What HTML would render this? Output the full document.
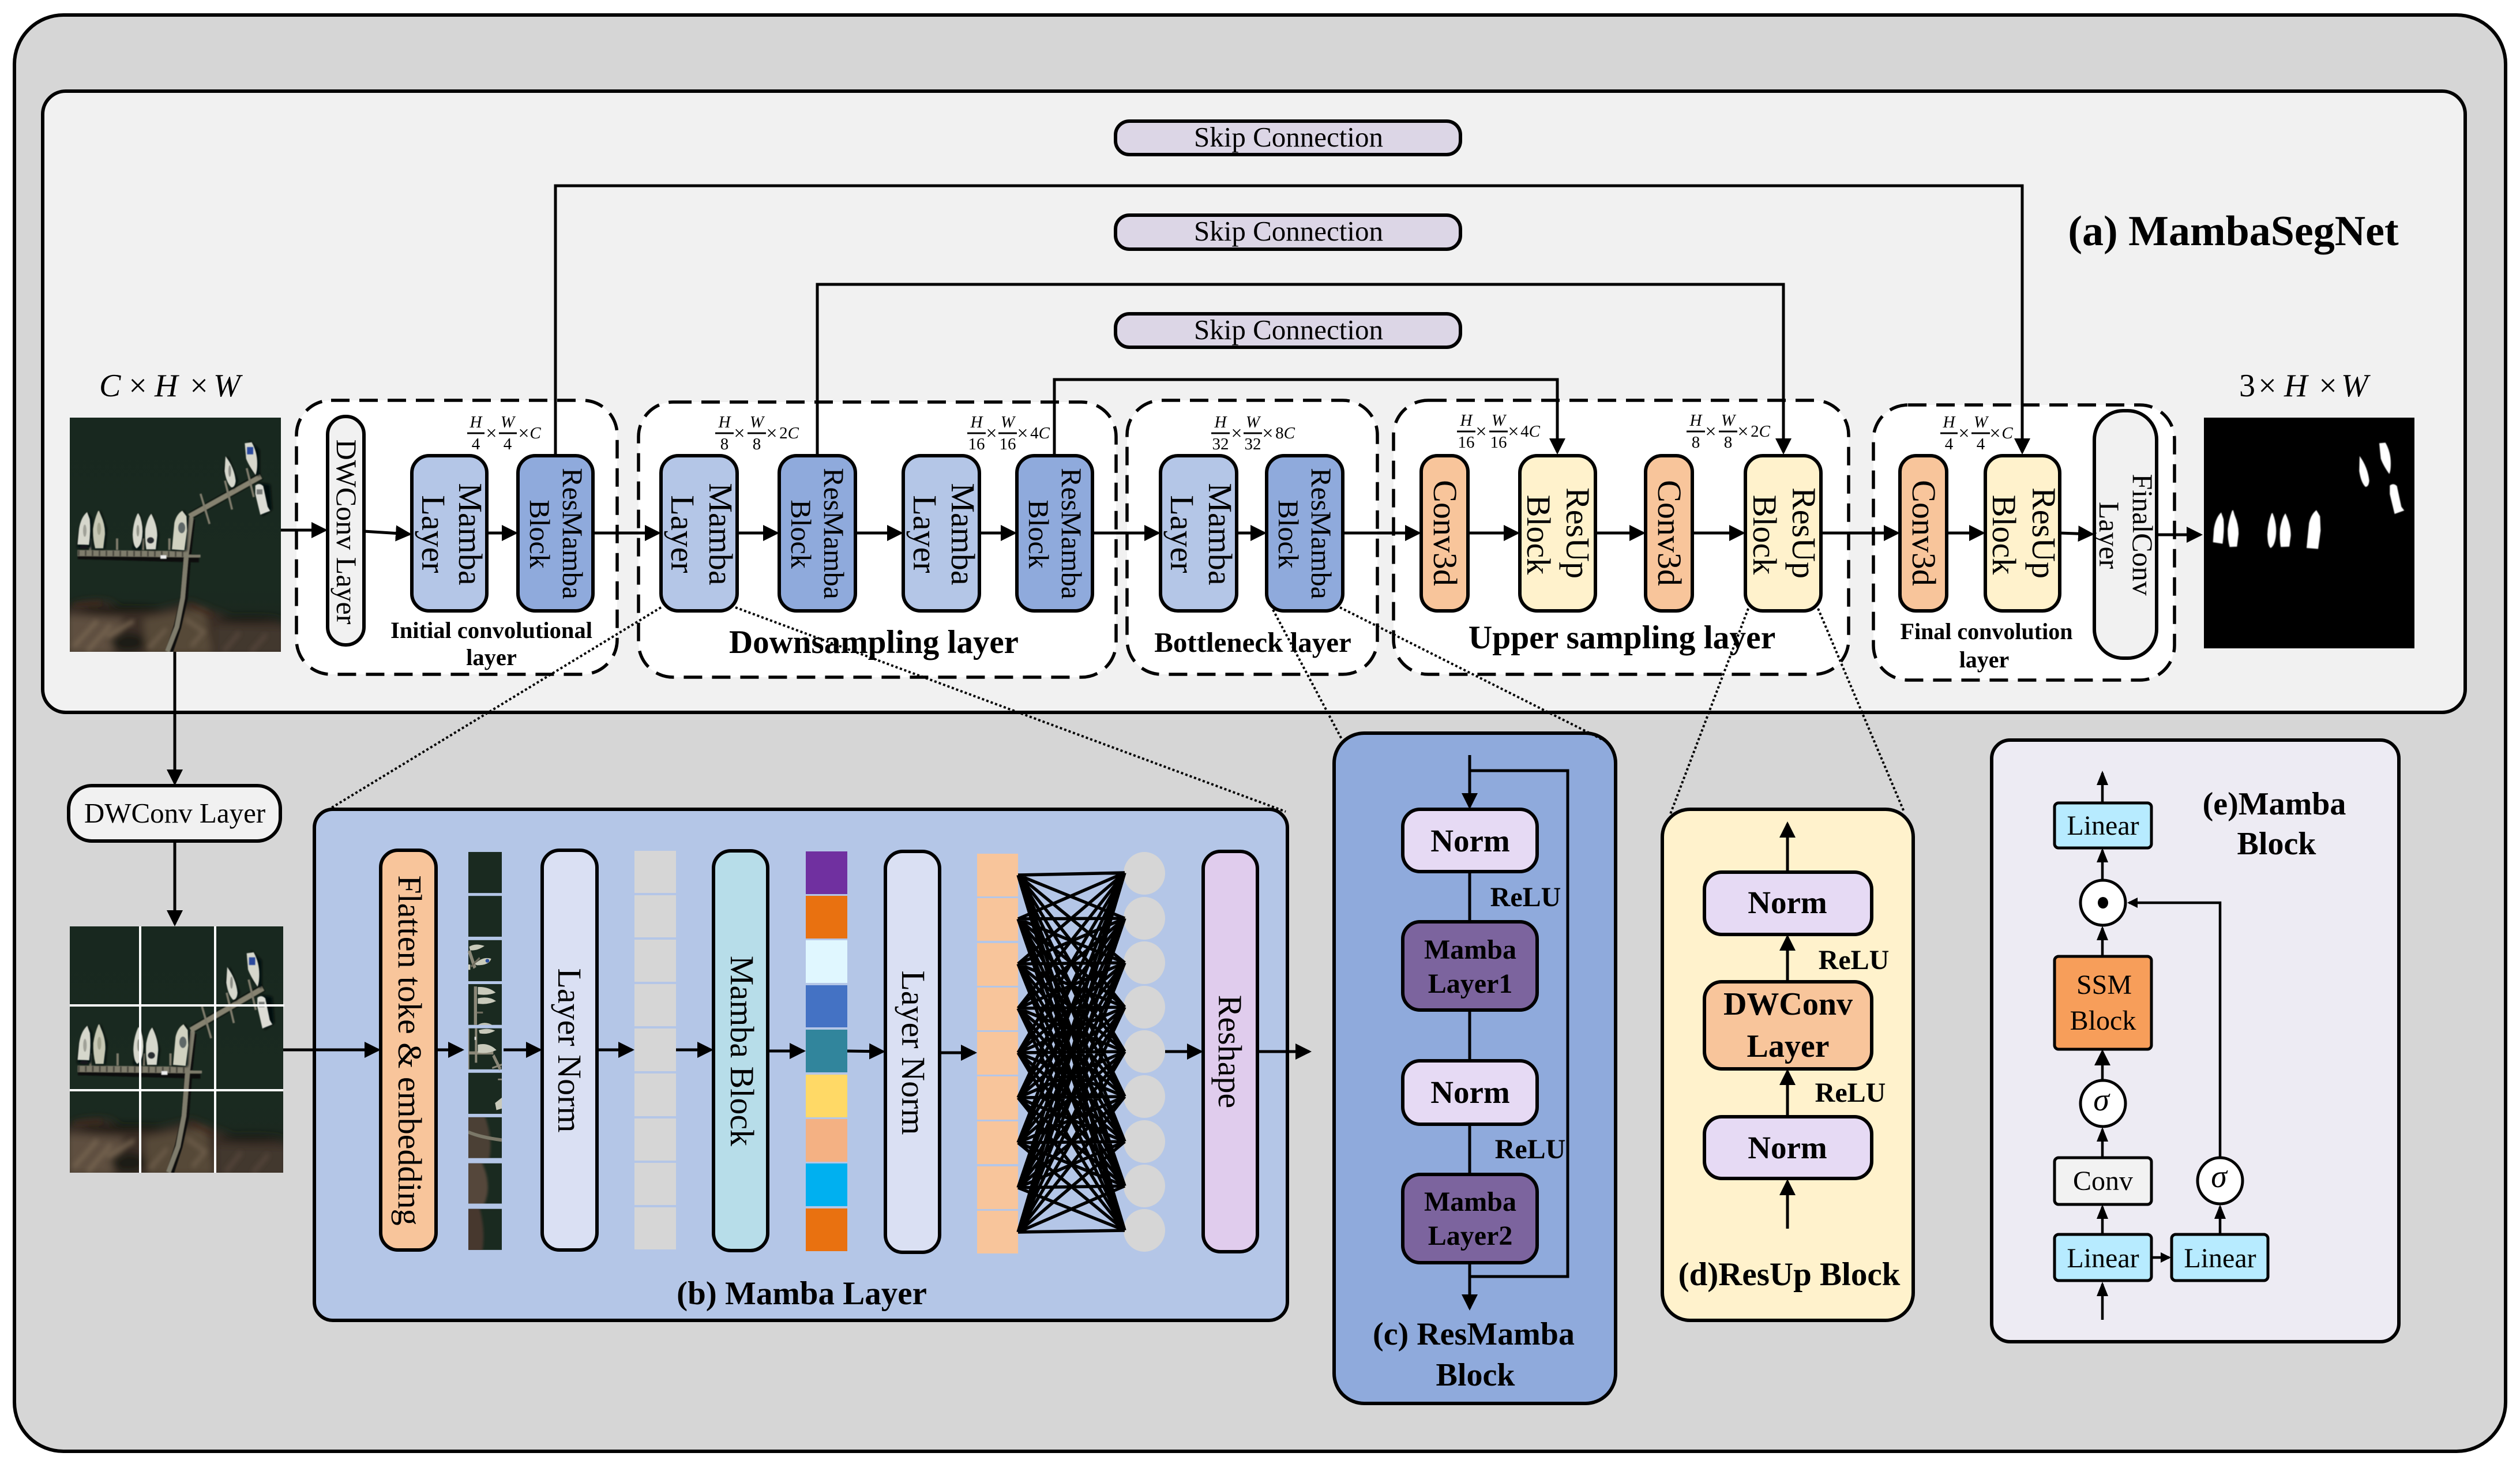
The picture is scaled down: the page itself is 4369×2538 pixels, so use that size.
<!DOCTYPE html>
<html><head><meta charset="utf-8"><title>MambaSegNet</title>
<style>html,body{margin:0;padding:0;background:#fff}svg.m{display:block;font-family:"Liberation Serif",serif;fill:#000}
.b{font-weight:bold}.c{text-anchor:middle}.i{font-style:italic}</style></head><body>
<svg class="m" xmlns="http://www.w3.org/2000/svg" width="4369" height="2538" viewBox="0 0 4369 2538">
<defs>
<marker id="a" markerUnits="userSpaceOnUse" markerWidth="30" markerHeight="30" refX="24" refY="14" orient="auto"><path d="M0 0L28 14L0 28Z" fill="#000"/></marker>
<marker id="c" markerUnits="userSpaceOnUse" markerWidth="30" markerHeight="24" refX="21" refY="10" orient="auto"><path d="M0 0L25 10L0 20Z" fill="#000"/></marker>
<marker id="d" markerUnits="userSpaceOnUse" markerWidth="22" markerHeight="22" refX="15" refY="9" orient="auto"><path d="M0 0L18 9L0 18Z" fill="#000"/></marker>
<filter id="b2" x="-20%" y="-20%" width="140%" height="140%"><feGaussianBlur stdDeviation="2"/></filter>
<filter id="b6" x="-20%" y="-20%" width="140%" height="140%"><feGaussianBlur stdDeviation="6"/></filter>
<filter id="b12" x="-30%" y="-30%" width="160%" height="160%"><feGaussianBlur stdDeviation="12"/></filter>
<filter id="b20" x="-30%" y="-30%" width="160%" height="160%"><feGaussianBlur stdDeviation="20"/></filter>
<linearGradient id="wg" x1="0" y1="0" x2="0" y2="1"><stop offset="0" stop-color="#18281f"/><stop offset=".7" stop-color="#1a2a20"/><stop offset="1" stop-color="#1c261e"/></linearGradient>
<symbol id="ph" viewBox="18 12 1098 1218" preserveAspectRatio="none">
<rect x="18" y="12" width="1098" height="1218" fill="url(#wg)"/>
<g filter="url(#b20)">
<path d="M0 1000Q100 950 220 970Q350 1040 480 1010L650 970Q760 1020 900 1060L1140 1080L1140 1260L0 1260Z" fill="#3a2f27"/>
<path d="M0 1040L300 1060L240 1240L0 1240Z" fill="#5f5041"/>
<path d="M400 1060L720 1000L760 1240L420 1240Z" fill="#574839"/>
<path d="M780 1100L1140 1110L1140 1240L780 1240Z" fill="#43372e"/>
<ellipse cx="320" cy="1180" rx="90" ry="50" fill="#1d1f19"/>
<ellipse cx="280" cy="1010" rx="210" ry="16" fill="#17160f"/>
<ellipse cx="950" cy="1060" rx="170" ry="18" fill="#1b1a14"/>
</g>
<g filter="url(#b12)" fill="none" stroke-width="20">
<path d="M40 1200L160 1070M110 1225L230 1090M210 1150L350 1070" stroke="#75644f"/>
<path d="M620 1060L720 1130M650 1200L720 1120M430 1210L520 1110" stroke="#6c5b48"/>
<path d="M820 1225L900 1130M960 1230L1040 1140" stroke="#54453a"/>
<path d="M40 985L180 975M640 985L760 1040" stroke="#40271a" stroke-width="14"/>
</g>
<g filter="url(#b2)">
<path d="M650 520L1015 315" stroke="#000" stroke-opacity=".5" stroke-width="40"/>
<path d="M60 728L690 745M650 540L630 720L612 950L578 1100L535 1228" stroke="#0a0d0a" stroke-width="40" fill="none"/>
<g stroke="#7f7c6c" fill="none">
<path d="M58 716L625 722" stroke-width="32"/><path d="M625 732L698 732" stroke-width="14"/>
<path d="M650 530L625 720L605 950L575 1100L525 1228" stroke-width="24"/>
<path d="M640 525L1012 318" stroke-width="26" stroke="#868270"/>
<path d="M698 408L745 565M825 340L862 490M938 275L975 425" stroke-width="11"/>
<path d="M124 640V700M264 640V700M399 640V700M536 640V700" stroke-width="12"/>
</g>
<path d="M60 716L615 722" stroke="#4c4a40" stroke-width="28" stroke-dasharray="9 27" fill="none"/>
<rect x="490" y="728" width="30" height="17" fill="#eee"/>
</g>
<g filter="url(#b6)" fill="#05080a">
<path d="M108 505L70 590L56 690L130 690L134 540ZM176 493L210 590L200 695L145 695Z"/>
<path d="M380 508L402 610L390 700L345 695ZM445 510L480 620L470 700L410 695Z"/>
<path d="M610 493L635 540L625 705L545 700Z"/>
<path d="M840 212L892 340L870 385L820 290ZM950 130L1005 180L1005 320L960 280Z"/>
<path d="M1000 350L1060 360L1070 490L1020 525Z"/>
</g>
<g fill="#d6d7cc" filter="url(#b2)">
<path d="M108 503Q76 530 66 590L58 672L118 674Q128 600 122 540Z"/>
<path d="M170 496L180 520Q203 570 201 620L192 692L150 692Q137 640 139 590Q146 540 165 498Z" fill="#c6c7b4"/>
<path d="M375 510L385 530Q401 580 395 630Q388 682 365 692Q347 680 345 620Q347 560 370 512Z"/>
<path d="M442 512Q473 570 473 625L465 697L416 697Q407 640 411 590Q423 530 442 512Z"/>
<path d="M603 496L625 525L628 600L614 702L549 697L562 560Q572 515 603 496Z" fill="#d0d1c0"/>
<path d="M828 213Q873 270 881 340Q878 375 858 375Q832 350 823 290Z"/>
<path d="M928 145L964 140Q993 190 993 250Q993 290 984 310Q948 260 935 225Z"/>
<path d="M983 365Q1005 348 1024 368L1047 475L1060 497L1009 517L983 410Z" fill="#dcdcd5"/>
</g>
<g filter="url(#b2)">
<rect x="940" y="165" width="32" height="38" fill="#2c4a9d"/>
<ellipse cx="600" cy="585" rx="18" ry="28" fill="#5f6768"/>
<ellipse cx="438" cy="650" rx="18" ry="16" fill="#2a2d31"/>
<ellipse cx="92" cy="685" rx="22" ry="9" fill="#14161a"/>
<ellipse cx="850" cy="290" rx="7" ry="30" fill="#8b8d86"/>
<ellipse cx="372" cy="600" rx="7" ry="30" fill="#929489"/>
<ellipse cx="170" cy="590" rx="10" ry="32" fill="#a3a590"/>
<ellipse cx="96" cy="600" rx="9" ry="32" fill="#a0a198"/>
<rect x="990" y="385" width="30" height="26" fill="#777a78"/>
</g>
</symbol>
</defs>

<rect x="25" y="26" width="4319" height="2490" rx="85" fill="#d6d6d6" stroke="#000" stroke-width="6"/>
<rect x="74" y="158" width="4200" height="1077" rx="40" fill="#f1f1f1" stroke="#000" stroke-width="6"/>

<g fill="#dcd6e6" stroke="#000" stroke-width="6">
<rect x="1934" y="210" width="598" height="58" rx="24"/>
<rect x="1934" y="373" width="598" height="59" rx="24"/>
<rect x="1934" y="544" width="598" height="58" rx="24"/>
</g>
<g font-size="49" class="c">
<text x="2234" y="254">Skip Connection</text>
<text x="2234" y="417">Skip Connection</text>
<text x="2234" y="588">Skip Connection</text>
</g>
<text x="3872" y="425" font-size="74" class="b c">(a) MambaSegNet</text>

<g fill="#fff" stroke="#000" stroke-width="5.5" stroke-dasharray="32 17">
<rect x="514" y="694" width="556" height="475" rx="60"/>
<rect x="1107" y="697" width="828" height="477" rx="60"/>
<rect x="1954" y="694" width="434" height="475" rx="60"/>
<rect x="2416" y="694" width="789" height="475" rx="60"/>
<rect x="3248" y="702" width="522" height="477" rx="60"/>
</g>

<use href="#ph" x="121" y="724" width="366" height="406"/>
<rect x="3821" y="724" width="365" height="400" fill="#000"/>
<g transform="translate(3815,720) scale(.3333)" fill="#fff" filter="url(#b2)">
<path d="M108 505Q80 530 70 590L65 660L115 668Q125 600 120 540Z"/>
<path d="M170 493L178 520Q200 570 198 620L190 683L152 685Q140 640 142 590Q148 540 165 495Z"/>
<path d="M375 508L383 530Q398 580 392 630Q385 680 365 690Q350 680 348 620Q350 560 370 510Z"/>
<path d="M442 510Q470 570 470 625L462 683L418 685Q410 640 414 590Q425 530 442 510Z"/>
<path d="M603 493L622 525L625 600L612 695L552 690L565 560Q575 515 603 493Z"/>
<path d="M828 212Q870 270 878 340Q875 372 858 372Q835 350 826 290Z"/>
<path d="M930 145L962 142Q990 190 990 250Q990 290 982 305Q950 260 938 225Z"/>
<path d="M985 365Q1005 350 1022 368L1045 475L1060 495L1010 513L985 410Z"/>
</g>

<g class="i" font-size="56">
<text x="172" y="687">C</text><text x="239" y="687" class="c" style="font-style:normal">×</text><text x="268" y="687">H</text><text x="345" y="687" class="c" style="font-style:normal">×</text><text x="370" y="687">W</text>
<text x="3882" y="687" style="font-style:normal">3</text><text x="3931" y="687" class="c" style="font-style:normal">×</text><text x="3960" y="687">H</text><text x="4036" y="687" class="c" style="font-style:normal">×</text><text x="4059" y="687">W</text>
</g>

<!-- connecting lines main -->
<g fill="none" stroke="#000" stroke-width="5">
<path d="M963 790V322H3506V784" marker-end="url(#a)"/>
<path d="M1417 790V493H3092V784" marker-end="url(#a)"/>
<path d="M1828 790V658H2700V784" marker-end="url(#a)"/>
<path d="M303 1130V1358" marker-end="url(#a)"/>
<path d="M303 1458V1602" marker-end="url(#a)"/>
<path d="M487 919H564" marker-end="url(#a)"/>
<path d="M631 921L710 926" marker-end="url(#a)"/>
<path d="M844 924H894" marker-end="url(#a)"/>
<path d="M1028 924H1142" marker-end="url(#a)"/>
<path d="M1278 924H1347" marker-end="url(#a)"/>
<path d="M1483 924H1562" marker-end="url(#a)"/>
<path d="M1698 924H1759" marker-end="url(#a)"/>
<path d="M1894 924H2008" marker-end="url(#a)"/>
<path d="M2144 924H2192" marker-end="url(#a)"/>
<path d="M2328 924H2460" marker-end="url(#a)"/>
<path d="M2545 924H2631" marker-end="url(#a)"/>
<path d="M2766 924H2849" marker-end="url(#a)"/>
<path d="M2934 924H3022" marker-end="url(#a)"/>
<path d="M3157 924H3290" marker-end="url(#a)"/>
<path d="M3375 924H3438" marker-end="url(#a)"/>
<path d="M3571 924L3627 926" marker-end="url(#a)"/>
<path d="M3739 927H3815" marker-end="url(#a)"/>
</g>

<g stroke="#000" stroke-width="6">
<rect x="568" y="722" width="63" height="396" rx="31" fill="#f1f1f1"/>
<g fill="#b4c6e7">
<rect x="714" y="790" width="130" height="269" rx="30"/>
<rect x="1146" y="790" width="132" height="269" rx="30"/>
<rect x="1566" y="790" width="132" height="269" rx="30"/>
<rect x="2012" y="790" width="132" height="269" rx="30"/>
</g>
<g fill="#8faadc">
<rect x="898" y="790" width="130" height="269" rx="30"/>
<rect x="1351" y="790" width="132" height="269" rx="30"/>
<rect x="1763" y="790" width="131" height="269" rx="30"/>
<rect x="2196" y="790" width="132" height="269" rx="30"/>
</g>
<g fill="#f8c59b">
<rect x="2464" y="790" width="81" height="269" rx="28"/>
<rect x="2853" y="790" width="81" height="269" rx="28"/>
<rect x="3294" y="790" width="81" height="269" rx="28"/>
</g>
<g fill="#fff2cc">
<rect x="2635" y="790" width="131" height="269" rx="30"/>
<rect x="3026" y="790" width="131" height="269" rx="30"/>
<rect x="3442" y="790" width="129" height="269" rx="30"/>
</g>
<rect x="3631" y="712" width="108" height="429" rx="50" fill="#f1f1f1"/>
</g>

<g font-size="50" class="c">
<text transform="translate(584,922) rotate(90)">DWConv Layer</text>
<text transform="translate(976,925) rotate(90)">ResMamba</text><text transform="translate(919,926) rotate(90)">Block</text>
<text transform="translate(1429,925) rotate(90)">ResMamba</text><text transform="translate(1372,926) rotate(90)">Block</text>
<text transform="translate(1841,925) rotate(90)">ResMamba</text><text transform="translate(1784,926) rotate(90)">Block</text>
<text transform="translate(2274,925) rotate(90)">ResMamba</text><text transform="translate(2217,926) rotate(90)">Block</text>
<text transform="translate(3698,927) rotate(90)">FinalConv</text><text transform="translate(3640,928) rotate(90)">Layer</text>
</g>
<g font-size="58" class="c">
<text transform="translate(796,926) rotate(90)">Mamba</text><text transform="translate(732,926) rotate(90)">Layer</text>
<text transform="translate(1230,926) rotate(90)">Mamba</text><text transform="translate(1164,926) rotate(90)">Layer</text>
<text transform="translate(1650,926) rotate(90)">Mamba</text><text transform="translate(1584,926) rotate(90)">Layer</text>
<text transform="translate(2096,926) rotate(90)">Mamba</text><text transform="translate(2030,926) rotate(90)">Layer</text>
<text transform="translate(2486,924) rotate(90)">Conv3d</text>
<text transform="translate(2875,924) rotate(90)">Conv3d</text>
<text transform="translate(3316,924) rotate(90)">Conv3d</text>
<text transform="translate(2716,924) rotate(90)">ResUp</text><text transform="translate(2648,927) rotate(90)">Block</text>
<text transform="translate(3108,924) rotate(90)">ResUp</text><text transform="translate(3040,927) rotate(90)">Block</text>
<text transform="translate(3524,924) rotate(90)">ResUp</text><text transform="translate(3455,927) rotate(90)">Block</text>
</g>

<!-- fractions -->
<g stroke="#000" stroke-width="3">
<path d="M810 751h30M865 751h31M1240 751h32M1296 751h32M1677 751h32M1731 751h32M2100 751h32M2156 751h32M2526 748h32M2582 748h32M2924 748h32M2980 748h32M3364 751h30M3418 751h32"/>
</g>
<g font-size="29" class="c">
<g class="i">
<text x="825" y="741">H</text><text x="880" y="741">W</text>
<text x="1256" y="741">H</text><text x="1312" y="741">W</text>
<text x="1693" y="741">H</text><text x="1747" y="741">W</text>
<text x="2116" y="741">H</text><text x="2172" y="741">W</text>
<text x="2542" y="738">H</text><text x="2598" y="738">W</text>
<text x="2940" y="738">H</text><text x="2996" y="738">W</text>
<text x="3379" y="741">H</text><text x="3434" y="741">W</text>
</g>
<text x="825" y="779">4</text><text x="880" y="779">4</text>
<text x="1256" y="779">8</text><text x="1312" y="779">8</text>
<text x="1693" y="779">16</text><text x="1747" y="779">16</text>
<text x="2116" y="779">32</text><text x="2172" y="779">32</text>
<text x="2542" y="776">16</text><text x="2598" y="776">16</text>
<text x="2940" y="776">8</text><text x="2996" y="776">8</text>
<text x="3379" y="779">4</text><text x="3434" y="779">4</text>
<g font-size="34">
<text x="852" y="762">×</text><text x="908" y="762">×</text>
<text x="1282" y="762">×</text><text x="1338" y="762">×</text>
<text x="1719" y="762">×</text><text x="1773" y="762">×</text>
<text x="2144" y="762">×</text><text x="2198" y="762">×</text>
<text x="2568" y="759">×</text><text x="2624" y="759">×</text>
<text x="2966" y="759">×</text><text x="3022" y="759">×</text>
<text x="3405" y="762">×</text><text x="3459" y="762">×</text>
</g>
<text x="928" y="760" class="i">C</text>
<text x="1368" y="760">2<tspan class="i">C</tspan></text>
<text x="1803" y="760">4<tspan class="i">C</tspan></text>
<text x="2228" y="760">8<tspan class="i">C</tspan></text>
<text x="2653" y="757">4<tspan class="i">C</tspan></text>
<text x="3052" y="757">2<tspan class="i">C</tspan></text>
<text x="3480" y="760" class="i">C</text>
</g>

<g class="b c">
<text x="852" y="1106" font-size="40.5">Initial convolutional</text><text x="852" y="1153" font-size="40.5">layer</text>
<text x="1515" y="1132" font-size="57">Downsampling layer</text>
<text x="2172" y="1130" font-size="49">Bottleneck layer</text>
<text x="2812" y="1124" font-size="57.5">Upper sampling layer</text>
<text x="3444" y="1108" font-size="40">Final convolution</text><text x="3440" y="1157" font-size="40">layer</text>
</g>

<!-- DWConv pill -->
<rect x="119" y="1362" width="367" height="96" rx="40" fill="#f1f1f1" stroke="#000" stroke-width="6"/>
<text x="303" y="1426" font-size="49" class="c">DWConv Layer</text>

<use href="#ph" x="121" y="1606" width="370" height="427"/>
<path d="M243 1606V2033M373 1606V2033M121 1743H493M121 1890H491" stroke="#fff" stroke-width="4" fill="none"/>

<!-- (b) panel -->
<rect x="545" y="1403" width="1687" height="886" rx="32" fill="#b4c6e7" stroke="#000" stroke-width="6"/>
<g stroke="#000" stroke-width="6">
<rect x="660" y="1474" width="96" height="693" rx="30" fill="#f8c59b"/>
<rect x="940" y="1474" width="95" height="693" rx="30" fill="#dae0f3"/>
<rect x="1237" y="1475" width="94" height="693" rx="30" fill="#b7dde9"/>
<rect x="1535" y="1476" width="94" height="695" rx="30" fill="#dae0f3"/>
<rect x="2086" y="1476" width="94" height="694" rx="30" fill="#e0cced"/>
</g>
<g fill="none" stroke="#000" stroke-width="5">
<path d="M491 1820H656" marker-end="url(#a)"/>
<path d="M756 1820H801" marker-end="url(#a)"/>
<path d="M873 1820H936" marker-end="url(#a)"/>
<path d="M1035 1820H1096" marker-end="url(#a)"/>
<path d="M1172 1820H1233" marker-end="url(#a)"/>
<path d="M1333 1822H1393" marker-end="url(#a)"/>
<path d="M1466 1822L1531 1823" marker-end="url(#a)"/>
<path d="M1629 1825H1690" marker-end="url(#a)"/>
<path d="M2020 1823H2082" marker-end="url(#a)"/>
<path d="M2180 1823H2270" marker-end="url(#a)"/>
</g>

<svg x="0" y="0" width="4369" height="2538" viewBox="0 0 4369 2538">
<g transform="translate(790,1460) scale(.3333,.459)">
<g fill="#1a2a20">
<rect x="66" y="37" width="174" height="155"/><rect x="66" y="203" width="174" height="154"/><rect x="66" y="370" width="174" height="155"/><rect x="66" y="536" width="174" height="154"/><rect x="66" y="703" width="174" height="155"/><rect x="66" y="871" width="174" height="155"/><rect x="66" y="1039" width="174" height="154"/><rect x="66" y="1213" width="174" height="152"/><rect x="66" y="1385" width="174" height="155"/>
</g>
<path d="M70 410L100 475" stroke="#8b8878" stroke-width="16" fill="none"/><path d="M80 470L125 437" stroke="#6f6c5e" stroke-width="8" fill="none"/>
<path d="M70 395Q100 380 150 392Q110 412 75 408Z" fill="#c9cabb"/><path d="M100 460Q140 430 185 440Q175 465 110 465Z" fill="#c9cabb"/><ellipse cx="165" cy="448" rx="10" ry="7" fill="#2b4fa0"/><rect x="66" y="462" width="10" height="20" fill="#c9cabb"/>
<rect x="95" y="545" width="16" height="145" fill="#8b8878"/><rect x="110" y="640" width="32" height="7" fill="#6f6c5e"/>
<path d="M115 547Q170 545 208 568Q170 580 115 575Z" fill="#c9cabb"/><path d="M115 590Q170 580 210 600Q170 615 115 610Z" fill="#c9cabb"/><path d="M115 690Q150 675 190 690Z" fill="#c9cabb"/>
<rect x="100" y="703" width="12" height="130" fill="#8b8878"/><rect x="66" y="703" width="5" height="155" fill="#8b8878"/><rect x="66" y="790" width="130" height="12" fill="#8b8878"/>
<path d="M196 805L232 858" stroke="#8b8878" stroke-width="14" fill="none"/><path d="M190 853L240 840" stroke="#8b8878" stroke-width="7" fill="none"/>
<path d="M120 710Q170 700 205 712Q170 728 125 722Z" fill="#c9cabb"/><path d="M115 765Q170 755 212 785Q170 800 115 795Z" fill="#c9cabb"/><rect x="98" y="735" width="8" height="12" fill="#e5e5e5"/>
<path d="M205 985L240 965V1006L212 1012Z" fill="#c9cabb"/><rect x="220" y="893" width="20" height="6" fill="#8b8878"/>
<svg x="66" y="1039" width="174" height="154" viewBox="66 1039 174 154"><path d="M50 1030H150Q200 1130 170 1210H50Z" fill="#4c4034" filter="url(#b6)"/><path d="M66 1095Q130 1115 240 1125" stroke="#7b7868" stroke-width="13" fill="none"/></svg>
<svg x="66" y="1213" width="174" height="152" viewBox="66 1213 174 152"><path d="M50 1200H130Q200 1300 140 1380H50Z" fill="#54463a" filter="url(#b6)"/></svg>
<svg x="66" y="1385" width="174" height="155" viewBox="66 1385 174 155"><path d="M50 1370H120Q160 1470 135 1560H50Z" fill="#46382e" filter="url(#b6)"/></svg>
</g>
</svg>

<g fill="#d6d6d6">
<rect x="1100" y="1475" width="72" height="73"/><rect x="1100" y="1552" width="72" height="73"/><rect x="1100" y="1629" width="72" height="73"/><rect x="1100" y="1706" width="72" height="73"/><rect x="1100" y="1783" width="72" height="74"/><rect x="1100" y="1861" width="72" height="74"/><rect x="1100" y="1939" width="72" height="73"/><rect x="1100" y="2016" width="72" height="73"/><rect x="1100" y="2093" width="72" height="73"/>
<ellipse cx="1984" cy="1514" rx="36" ry="37"/><ellipse cx="1984" cy="1592" rx="36" ry="37"/><ellipse cx="1984" cy="1669" rx="36" ry="37"/><ellipse cx="1984" cy="1746" rx="36" ry="37"/><ellipse cx="1984" cy="1823" rx="36" ry="37"/><ellipse cx="1984" cy="1901" rx="36" ry="37"/><ellipse cx="1984" cy="1979" rx="36" ry="37"/><ellipse cx="1984" cy="2056" rx="36" ry="37"/><ellipse cx="1984" cy="2133" rx="36" ry="37"/>
</g>
<rect x="1397" y="1476" width="72" height="74" fill="#7030a0"/><rect x="1397" y="1553" width="72" height="74" fill="#e97110"/><rect x="1397" y="1630" width="72" height="74" fill="#e0f7ff"/><rect x="1397" y="1708" width="72" height="73" fill="#4472c4"/><rect x="1397" y="1785" width="72" height="74" fill="#31859c"/><rect x="1397" y="1863" width="72" height="74" fill="#ffd966"/><rect x="1397" y="1940" width="72" height="74" fill="#f4b183"/><rect x="1397" y="2017" width="72" height="74" fill="#00b0f0"/><rect x="1397" y="2095" width="72" height="74" fill="#e97110"/>
<g fill="#f8c59b">
<rect x="1694" y="1480" width="71" height="74"/><rect x="1694" y="1557" width="71" height="74"/><rect x="1694" y="1635" width="71" height="74"/><rect x="1694" y="1712" width="71" height="74"/><rect x="1694" y="1789" width="71" height="74"/><rect x="1694" y="1866" width="71" height="75"/><rect x="1694" y="1944" width="71" height="74"/><rect x="1694" y="2022" width="71" height="74"/><rect x="1694" y="2099" width="71" height="74"/>
</g>
<path fill="none" stroke="#000" stroke-width="5.5" d="M1765 1517 1950 1513M1765 1517 1950 1592M1765 1517 1950 1669M1765 1517 1950 1746M1765 1517 1950 1823M1765 1517 1950 1901M1765 1517 1950 1979M1765 1517 1950 2056M1765 1517 1950 2133M1765 1593 1950 1513M1765 1593 1950 1592M1765 1593 1950 1669M1765 1593 1950 1746M1765 1593 1950 1823M1765 1593 1950 1901M1765 1593 1950 1979M1765 1593 1950 2056M1765 1593 1950 2133M1765 1671 1950 1513M1765 1671 1950 1592M1765 1671 1950 1669M1765 1671 1950 1746M1765 1671 1950 1823M1765 1671 1950 1901M1765 1671 1950 1979M1765 1671 1950 2056M1765 1671 1950 2133M1765 1748 1950 1513M1765 1748 1950 1592M1765 1748 1950 1669M1765 1748 1950 1746M1765 1748 1950 1823M1765 1748 1950 1901M1765 1748 1950 1979M1765 1748 1950 2056M1765 1748 1950 2133M1765 1825 1950 1513M1765 1825 1950 1592M1765 1825 1950 1669M1765 1825 1950 1746M1765 1825 1950 1823M1765 1825 1950 1901M1765 1825 1950 1979M1765 1825 1950 2056M1765 1825 1950 2133M1765 1903 1950 1513M1765 1903 1950 1592M1765 1903 1950 1669M1765 1903 1950 1746M1765 1903 1950 1823M1765 1903 1950 1901M1765 1903 1950 1979M1765 1903 1950 2056M1765 1903 1950 2133M1765 1981 1950 1513M1765 1981 1950 1592M1765 1981 1950 1669M1765 1981 1950 1746M1765 1981 1950 1823M1765 1981 1950 1901M1765 1981 1950 1979M1765 1981 1950 2056M1765 1981 1950 2133M1765 2059 1950 1513M1765 2059 1950 1592M1765 2059 1950 1669M1765 2059 1950 1746M1765 2059 1950 1823M1765 2059 1950 1901M1765 2059 1950 1979M1765 2059 1950 2056M1765 2059 1950 2133M1765 2136 1950 1513M1765 2136 1950 1592M1765 2136 1950 1669M1765 2136 1950 1746M1765 2136 1950 1823M1765 2136 1950 1901M1765 2136 1950 1979M1765 2136 1950 2056M1765 2136 1950 2133"/>

<g font-size="58" class="c">
<text transform="translate(691,1821) rotate(90)">Flatten toke &amp; embedding</text>
<text transform="translate(968,1821) rotate(90)">Layer Norm</text>
<text transform="translate(1267,1822) rotate(90)">Mamba Block</text>
<text transform="translate(1564,1825) rotate(90)">Layer Norm</text>
<text transform="translate(2113,1823) rotate(90)">Reshape</text>
</g>
<text x="1390" y="2261" font-size="57" class="b c">(b) Mamba Layer</text>

<!-- (c) panel -->
<rect x="2313" y="1271" width="488" height="1162" rx="52" fill="#8faadc" stroke="#000" stroke-width="6"/>
<g fill="none" stroke="#000" stroke-width="5">
<path d="M2548 1309V1399" marker-end="url(#a)"/>
<path d="M2548 1511V2268" marker-end="url(#a)"/>
<path d="M2548 1336H2718V2213H2548"/>
</g>
<g stroke="#000" stroke-width="6">
<rect x="2432" y="1403" width="233" height="108" rx="30" fill="#e6daf4"/>
<rect x="2432" y="1598" width="233" height="153" rx="30" fill="#7c649e"/>
<rect x="2432" y="1839" width="233" height="110" rx="30" fill="#e6daf4"/>
<rect x="2432" y="2036" width="233" height="153" rx="30" fill="#7c649e"/>
</g>
<g class="b c">
<text x="2549" y="1476" font-size="55">Norm</text>
<text x="2549" y="1912" font-size="55">Norm</text>
<text x="2549" y="1662" font-size="48">Mamba</text><text x="2549" y="1721" font-size="48">Layer1</text>
<text x="2549" y="2099" font-size="48">Mamba</text><text x="2549" y="2158" font-size="48">Layer2</text>
<text x="2645" y="1571" font-size="48">ReLU</text><text x="2653" y="2008" font-size="48">ReLU</text>
<text x="2555" y="2331" font-size="56">(c) ResMamba</text><text x="2558" y="2402" font-size="56">Block</text>
</g>

<!-- (d) panel -->
<rect x="2882" y="1403" width="435" height="886" rx="48" fill="#fff2cc" stroke="#000" stroke-width="6"/>
<g fill="none" stroke="#000" stroke-width="5">
<path d="M3099 2130V2048" marker-end="url(#a)"/>
<path d="M3099 1936V1857" marker-end="url(#a)"/>
<path d="M3099 1702V1624" marker-end="url(#a)"/>
<path d="M3099 1512V1428" marker-end="url(#a)"/>
</g>
<g stroke="#000" stroke-width="6">
<rect x="2955" y="1512" width="290" height="108" rx="30" fill="#e6daf4"/>
<rect x="2955" y="1702" width="290" height="151" rx="30" fill="#f8c59b"/>
<rect x="2955" y="1936" width="290" height="107" rx="30" fill="#e6daf4"/>
</g>
<g class="b c">
<text x="3099" y="1583" font-size="55">Norm</text>
<text x="3100" y="1759" font-size="56">DWConv</text><text x="3100" y="1832" font-size="56">Layer</text>
<text x="3099" y="2008" font-size="55">Norm</text>
<text x="3214" y="1680" font-size="48">ReLU</text><text x="3208" y="1910" font-size="48">ReLU</text>
<text x="3102" y="2228" font-size="57">(d)ResUp Block</text>
</g>

<!-- (e) panel -->
<rect x="3453" y="1283" width="706" height="1043" rx="32" fill="#edebf3" stroke="#000" stroke-width="6"/>
<g fill="none" stroke="#000" stroke-width="4.5">
<path d="M3645 2288V2226" marker-end="url(#c)"/>
<path d="M3645 2140V2092" marker-end="url(#c)"/>
<path d="M3645 2007V1958" marker-end="url(#c)"/>
<path d="M3645 1872V1823" marker-end="url(#a)"/>
<path d="M3645 1658V1609" marker-end="url(#c)"/>
<path d="M3645 1525V1474" marker-end="url(#c)"/>
<path d="M3645 1392V1340" marker-end="url(#c)"/>
<path d="M3849 2140V2092" marker-end="url(#c)"/>
<path d="M3730 2180H3761" marker-end="url(#d)"/>
<path d="M3849 2006V1565H3691" marker-end="url(#d)"/>
</g>
<g stroke="#000" stroke-width="5">
<rect x="3562" y="1392" width="168" height="78" rx="7" fill="#b7ebff"/>
<rect x="3562" y="1658" width="168" height="161" rx="7" fill="#f79e5a"/>
<rect x="3562" y="2007" width="168" height="81" rx="7" fill="#f2f2f2"/>
<rect x="3562" y="2140" width="168" height="80" rx="7" fill="#b7ebff"/>
<rect x="3765" y="2140" width="167" height="80" rx="7" fill="#b7ebff"/>
<ellipse cx="3646" cy="1565" rx="39" ry="39" fill="#fff"/>
<ellipse cx="3646" cy="1913" rx="39" ry="40" fill="#fff"/>
<ellipse cx="3849" cy="2047" rx="39" ry="40" fill="#fff"/>
</g>
<ellipse cx="3646" cy="1565" rx="9" ry="10" fill="#000"/>
<g class="c" font-size="48">
<text x="3646" y="1447">Linear</text>
<text x="3648" y="1723">SSM</text><text x="3646" y="1785">Block</text>
<text x="3646" y="2063">Conv</text>
<text x="3646" y="2197">Linear</text><text x="3849" y="2197">Linear</text>
<text x="3643" y="1925" class="i" font-size="56">σ</text><text x="3847" y="2058" class="i" font-size="56">σ</text>
</g>
<g class="b c" font-size="56"><text x="3943" y="1412">(e)Mamba</text><text x="3947" y="1481">Block</text></g>

<!-- dotted zoom connectors -->
<g fill="none" stroke="#000" stroke-width="4" stroke-dasharray="4 4">
<path d="M1146 1053L572 1402"/>
<path d="M1275 1053L2229 1407"/>
<path d="M2207 1057L2326 1281"/>
<path d="M2323 1053L2782 1284"/>
<path d="M3031 1055L2896 1411"/>
<path d="M3152 1055L3301 1407"/>
</g>
</svg>
</body></html>
